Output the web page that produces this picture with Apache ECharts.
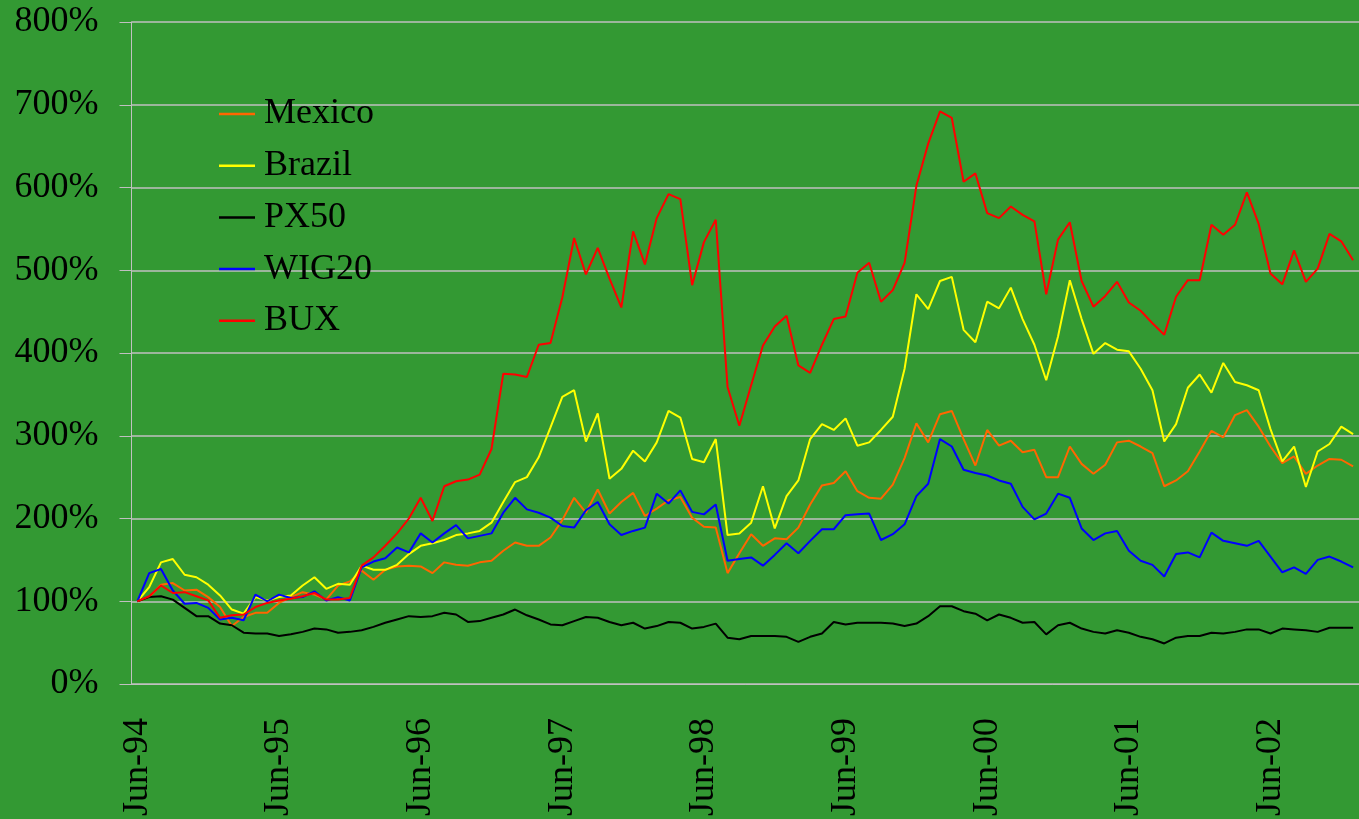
<!DOCTYPE html>
<html>
<head>
<meta charset="utf-8">
<script src="https://cdn.jsdelivr.net/npm/echarts@6.0.0/dist/echarts.min.js"></script>
<style>
  html, body { margin: 0; padding: 0; background: #339933; }
  #chart { width: 1359px; height: 819px; }
</style>
</head>
<body>
<div id="chart"></div>
<script>
// monthly index levels, Jun-94 = 100%
let monthNames = ['Jun', 'Jul', 'Aug', 'Sep', 'Oct', 'Nov', 'Dec', 'Jan', 'Feb', 'Mar', 'Apr', 'May'];

let mexico = [
    100, 105, 120, 122, 113, 114, 105, 93, 70, 81, 86, 86, 98, 105, 111, 108, 102, 119, 124,
    137, 126, 138, 142, 143, 142, 134, 147, 144, 143, 147, 149, 161, 171, 167, 167, 177, 198,
    225, 207, 235, 206, 220, 231, 203, 212, 222, 226, 201, 190, 189, 134, 158, 181, 167, 176,
    175, 189, 217, 240, 243, 257, 233, 225, 224, 241, 273, 315, 292, 326, 330, 296, 264, 307,
    288, 294, 280, 283, 250, 250, 287, 266, 254, 265, 292, 294, 287, 279, 239, 246,
    257, 281, 306, 298, 325, 331, 311, 287, 267, 275, 254, 264, 272, 271, 263
];
let brazil = [
    100, 117, 147, 151, 132, 129, 120, 107, 90, 85, 105, 101, 105, 107, 119, 129, 115, 121, 120,
    143, 138, 138, 144, 157, 167, 170, 174, 180, 182, 185, 195, 220, 244, 250, 274, 310, 347,
    355, 293, 327, 248, 260, 282, 269, 292, 330, 322, 272, 268, 296, 180, 182, 195, 239, 188,
    227, 246, 296, 314, 307, 321, 288, 292, 307, 323, 381, 471, 453, 487, 492, 428, 413, 462,
    454, 479, 441, 410, 367, 420, 488, 441, 399, 412, 404, 402, 381, 355, 293, 314,
    358, 374, 352, 388, 365, 361, 355, 308, 269, 287, 238, 281, 290, 311, 302
];
let px50 = [
    100, 105, 106, 102, 92, 82, 82, 73, 71, 62, 61, 61, 58, 60, 63, 67, 66, 62, 63,
    65, 69, 74, 78, 82, 81, 82, 86, 84, 75, 76, 80, 84, 90, 83, 78, 72, 71,
    76, 81, 80, 75, 71, 74, 67, 70, 75, 74, 67, 69, 73, 56, 54, 58, 58, 58,
    57, 51, 57, 61, 75, 72, 74, 74, 74, 73, 70, 73, 82, 94, 94, 88, 85, 77,
    84, 80, 74, 75, 60, 71, 74, 67, 63, 61, 65, 62, 57, 54, 49, 56,
    58, 58, 62, 61, 63, 66, 66, 61, 67, 66, 65, 63, 68, 68, 68
];
let wig20 = [
    100, 134, 139, 113, 97, 98, 92, 78, 80, 77, 108, 100, 108, 104, 105, 112, 101, 105, 101,
    141, 148, 152, 165, 159, 182, 171, 182, 192, 176, 179, 182, 207, 225, 211, 207, 201, 191,
    189, 210, 220, 193, 180, 185, 189, 230, 218, 234, 208, 205, 217, 149, 151, 153, 143, 156,
    170, 158, 173, 187, 187, 204, 205, 206, 174, 181, 193, 227, 242, 296, 287, 259, 255, 252,
    246, 242, 214, 199, 206, 230, 225, 188, 174, 182, 185, 161, 149, 144, 130, 157,
    159, 153, 183, 173, 170, 167, 173, 154, 135, 141, 133, 150, 154, 148, 141
];
let bux = [
    100, 106, 119, 110, 111, 106, 101, 80, 83, 84, 93, 98, 101, 103, 106, 110, 102, 102, 104,
    143, 153, 167, 182, 200, 225, 197, 239, 245, 247, 253, 284, 375, 374, 371, 410, 412, 467,
    539, 495, 527, 490, 455, 547, 507, 563, 592, 586, 482, 534, 561, 359, 312, 361, 409, 432,
    445, 385, 376, 410, 441, 444, 497, 509, 462, 476, 509, 602, 653, 692, 684, 607, 617, 569,
    563, 577, 567, 559, 471, 537, 558, 487, 456, 469, 486, 461, 451, 436, 422, 468,
    488, 488, 555, 543, 555, 594, 556, 496, 483, 524, 486, 502, 544, 535, 512
];

// Jun-94 ... Jan-03
let months = [];
for (let i = 0; i < mexico.length; i++) {
    let yr = 94 + Math.floor((i + 5) / 12);
    months.push(monthNames[i % 12] + '-' + String(yr % 100).padStart(2, '0'));
}

let font = 'Liberation Serif, Times New Roman, serif';
let gridGray = '#c0c0c0';

let chart = echarts.init(document.getElementById('chart'));
chart.setOption({
    animation: false,
    backgroundColor: '#339933',
    grid: {
        left: 131.5,
        top: 22,
        right: -5,
        bottom: 135
    },
    legend: {
        orient: 'vertical',
        left: 214,
        top: 89,
        icon: 'rect',
        itemWidth: 36,
        itemHeight: 2.5,
        itemGap: 11.7,
        textStyle: {
            fontFamily: font,
            fontSize: 36,
            lineHeight: 40,
            color: '#000',
            padding: [0, 0, 0, 4]
        },
        data: ['Mexico', 'Brazil', 'PX50', 'WIG20', 'BUX']
    },
    xAxis: {
        type: 'category',
        data: months,
        boundaryGap: true,
        axisLine: { lineStyle: { color: gridGray, width: 1 } },
        axisTick: { interval: 11, length: 12, lineStyle: { color: gridGray } },
        axisLabel: {
            interval: 11,
            rotate: 90,
            margin: 34,
            fontFamily: font,
            fontSize: 36,
            color: '#000'
        },
        splitLine: { show: false }
    },
    yAxis: {
        type: 'value',
        min: 0,
        max: 800,
        interval: 100,
        axisLine: { show: true, lineStyle: { color: gridGray, width: 1 } },
        axisTick: { show: true, length: 12, lineStyle: { color: gridGray } },
        axisLabel: {
            formatter: '{value}%',
            margin: 33,
            fontFamily: font,
            fontSize: 36,
            color: '#000'
        },
        splitLine: { lineStyle: { color: gridGray, width: 1.5 } }
    },
    series: [
        { name: 'Mexico', type: 'line', data: mexico, symbol: 'none', lineStyle: { color: '#ff6600', width: 2 }, itemStyle: { color: '#ff6600' } },
        { name: 'Brazil', type: 'line', data: brazil, symbol: 'none', lineStyle: { color: '#ffff00', width: 2 }, itemStyle: { color: '#ffff00' } },
        { name: 'PX50', type: 'line', data: px50, symbol: 'none', lineStyle: { color: '#000000', width: 2 }, itemStyle: { color: '#000000' } },
        { name: 'WIG20', type: 'line', data: wig20, symbol: 'none', lineStyle: { color: '#0000ff', width: 2 }, itemStyle: { color: '#0000ff' } },
        { name: 'BUX', type: 'line', data: bux, symbol: 'none', lineStyle: { color: '#ff0000', width: 2 }, itemStyle: { color: '#ff0000' } }
    ]
});
</script>
</body>
</html>
